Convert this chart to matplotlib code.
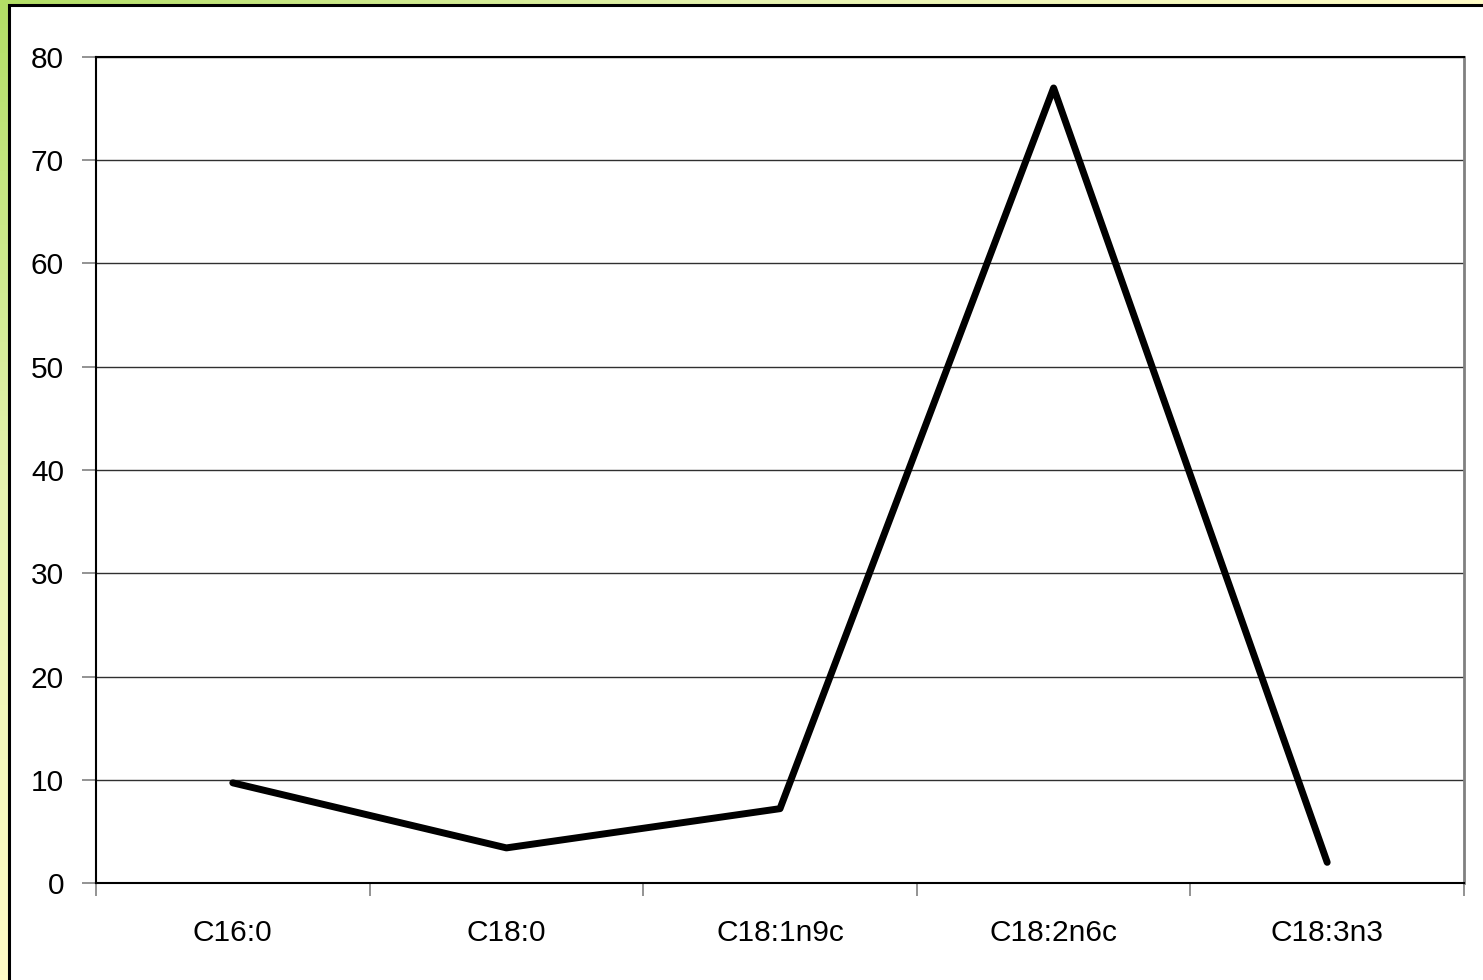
import matplotlib
matplotlib.use("Agg")
import matplotlib.pyplot as plt
import numpy as np
from matplotlib.colors import LinearSegmentedColormap
from matplotlib.patches import Rectangle

acidos = ["C16:0", "C18:0", "C18:1n9c", "C18:2n6c", "C18:3n3"]
valores = [9.7, 3.4, 7.2, 77.0, 2.0]
y_ticks = [0, 10, 20, 30, 40, 50, 60, 70, 80]

W, H, DPI = 1483, 980, 100
plt.rcParams['font.family'] = ['Liberation Sans', 'DejaVu Sans']

fig = plt.figure(figsize=(W / DPI, H / DPI), dpi=DPI)

# fondo degradado verde -> amarillo
bg = fig.add_axes([0, 0, 1, 1], zorder=0)
gx, gy = np.meshgrid(np.linspace(0, 1, 300), np.linspace(0, 1, 200))
t = np.clip(gx + gy, 0, 1)
cmap = LinearSegmentedColormap.from_list("fondo", ["#b3df66", "#e6f3b0", "#fffcc6"])
bg.imshow(t, cmap=cmap, aspect='auto', extent=[0, W, H, 0])
bg.add_patch(Rectangle((8.5, 5.5), W, H, facecolor='white', edgecolor='black', linewidth=2.2))
bg.set_xlim(0, W)
bg.set_ylim(H, 0)
bg.axis('off')

ax = fig.add_axes([96 / W, (H - 883) / H, (1464 - 96) / W, (883 - 57) / H], zorder=1)
ax.set_facecolor('none')
x = np.arange(len(acidos))
ax.plot(x, valores, color='black', linewidth=5.0, solid_capstyle='round', solid_joinstyle='round', zorder=3)

ax.set_xlim(-0.5, len(acidos) - 0.5)
ax.set_ylim(0, 80)
ax.set_yticks(y_ticks)
ax.set_yticklabels([str(v) for v in y_ticks])
ax.set_xticks(np.arange(len(acidos) + 1) - 0.5)
ax.set_xticklabels([])
ax.set_xticks(x, minor=True)
ax.set_xticklabels(acidos, minor=True)
ax.tick_params(axis='x', which='minor', length=0, pad=26, labelsize=21.5)
ax.tick_params(axis='x', which='major', length=9, color='#808080', width=1.2)
ax.tick_params(axis='y', length=10, color='#808080', width=1.2, pad=13, labelsize=21.5)

ax.yaxis.grid(True, color='#303030', linewidth=1.0)
ax.set_axisbelow(True)
for lado in ['left', 'bottom', 'top']:
    ax.spines[lado].set_color('black')
    ax.spines[lado].set_linewidth(1.5)
ax.spines['right'].set_color('#808080')
ax.spines['right'].set_linewidth(2)

fig.savefig("out.png", dpi=DPI)
